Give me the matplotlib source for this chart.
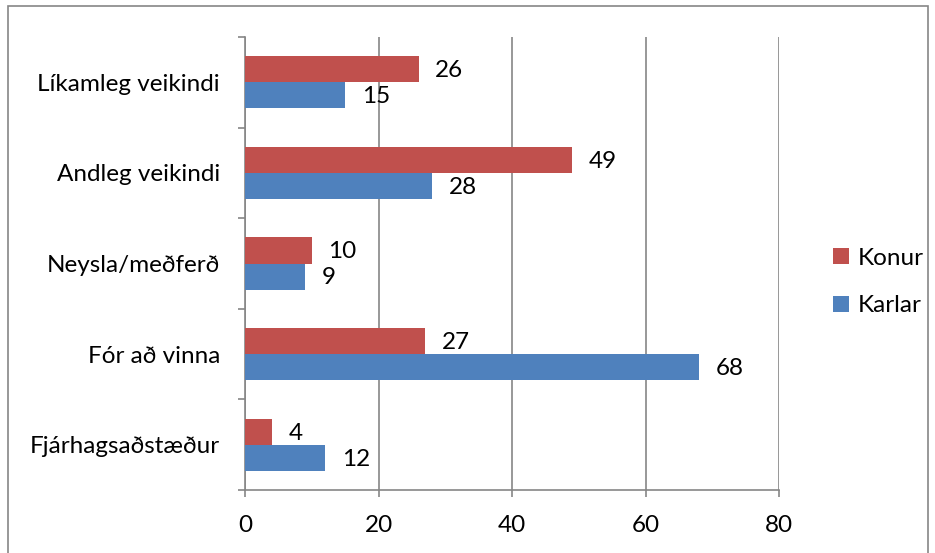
import numpy as np
import matplotlib.pyplot as plt
from matplotlib.patches import Rectangle

# data
categories = ["Líkamleg veikindi", "Andleg veikindi", "Neysla/meðferð", "Fór að vinna", "Fjárhagsaðstæður"]
konur = [26, 49, 10, 27, 4]
karlar = [15, 28, 9, 68, 12]
xticks = [0, 20, 40, 60, 80]

red = "#C0504D"
blue = "#4F81BD"
grid_col = "#868686"
fs = 17.5

plt.rcParams['font.family'] = ['Lato', 'DejaVu Sans']

fig = plt.figure(figsize=(9.35, 5.53), dpi=100)
# outer chart border
fig.patches.append(Rectangle((8 / 935, -0.01), 920 / 935, (553 - 6) / 553 + 0.01,
                             transform=fig.transFigure, fill=False,
                             edgecolor=grid_col, linewidth=1.2))

ax = fig.add_axes([245 / 935, (553 - 490) / 553, (779 - 245) / 935, (490 - 37) / 553])

# categories listed top to bottom
n = len(categories)
y = np.arange(n)[::-1]
h = 0.287

b1 = ax.barh(y + h / 2, konur, height=h, color=red, label="Konur", zorder=3)
b2 = ax.barh(y - h / 2, karlar, height=h, color=blue, label="Karlar", zorder=3)

for bars, vals in [(b1, konur), (b2, karlar)]:
    for bar, v in zip(bars, vals):
        ax.annotate(str(v), (v, bar.get_y() + bar.get_height() / 2),
                    xytext=(12, -1), textcoords="offset points",
                    va="center", ha="left", fontsize=fs)

ax.set_xlim(0, 80)
ax.set_ylim(-0.5, n - 0.5)
ax.set_xticks(xticks)
ax.set_xticklabels([str(t) for t in xticks], fontsize=fs)
ax.set_yticks(y)
ax.set_yticklabels(categories, fontsize=fs)
ax.set_yticks(np.arange(n + 1) - 0.5, minor=True)

ax.tick_params(axis="y", which="major", length=0, pad=18)
ax.tick_params(axis="y", which="minor", length=5, color=grid_col, width=1.2)
ax.tick_params(axis="x", length=5, color=grid_col, width=1.2, pad=13)

ax.grid(axis="x", color=grid_col, linewidth=1.2, zorder=0)
for s in ["top", "right"]:
    ax.spines[s].set_visible(False)
for s in ["left", "bottom"]:
    ax.spines[s].set_color(grid_col)
    ax.spines[s].set_linewidth(1.2)

handles, labels = ax.get_legend_handles_labels()
fig.legend(handles, labels, loc="center left", bbox_to_anchor=(833 / 935, 1 - 282 / 553),
           frameon=False, fontsize=fs, handlelength=0.65, handleheight=0.65,
           labelspacing=1.1, handletextpad=0.35, borderpad=0, borderaxespad=0)

fig.savefig("out.png", dpi=100)
